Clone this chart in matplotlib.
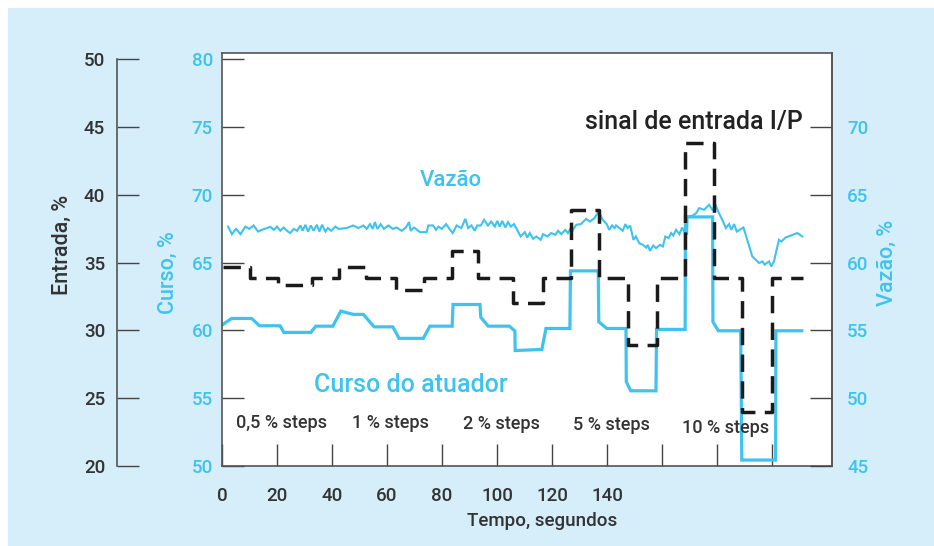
import matplotlib
matplotlib.use('Agg')
import matplotlib.pyplot as plt
from matplotlib.patches import Rectangle

plt.rcParams['font.family'] = ['Roboto', 'DejaVu Sans']
plt.rcParams['font.weight'] = 'medium'

W, H = 934, 546
CYAN = '#3ec3f0'
DARK = '#333333'
BG = '#d6edfa'

# ---------------- data ----------------
tempo_ticks = [0, 20, 40, 60, 80, 100, 120, 140, 160, 180, 200]
tempo_labels = ['0', '20', '40', '60', '80', '100', '120', '140', '', '', '']
entrada_ticks = [20, 25, 30, 35, 40, 45, 50]
curso_ticks = [50, 55, 60, 65, 70, 75, 80]
vazao_ticks = [45, 50, 55, 60, 65, 70]

# sinal de entrada I/P (Entrada, %) - step signal
entrada_t = [0.4, 10, 20.5, 32.6, 42.5, 52.3, 63.3, 73.5, 83.6, 93.1, 105.7,
             116.8, 126.8, 137.2, 147.5, 158.1, 168.4, 179.0, 189.2, 200.1, 211.4]
entrada_v = [34.7, 33.85, 33.35, 33.85, 34.7, 33.85, 33.0, 33.85, 35.9, 33.85, 32.0,
             33.85, 38.9, 33.85, 28.9, 33.85, 43.85, 33.85, 24.0, 33.85, 33.85]

# Curso do atuador (Curso, %)
curso_t = [0, 3.5, 10.8, 13.6, 21.1, 22.5, 32.3, 34.1, 40.3, 43.2,
           47.7, 51.4, 55.3, 62.1, 64.4, 73.2, 75.6, 83.7, 84.0, 93.8,
           94.1, 96.8, 104.5, 106.5, 106.6, 116.3, 117.8, 126.5, 126.7, 136.8,
           137.0, 139.9, 146.9, 147.0, 148.6, 157.8, 158.0, 168.4, 168.5, 178.4,
           178.5, 180.5, 188.6, 189.0, 201.3, 201.4, 210.8]
curso_v = [60.40, 60.89, 60.89, 60.35, 60.35, 59.86, 59.86, 60.32, 60.32, 61.43,
           61.19, 61.19, 60.27, 60.27, 59.42, 59.42, 60.32, 60.32, 61.92, 61.92,
           60.97, 60.32, 60.32, 59.96, 58.52, 58.60, 60.15, 60.15, 64.40, 64.40,
           60.64, 60.15, 60.15, 56.22, 55.55, 55.55, 60.08, 60.08, 68.38, 68.38,
           60.64, 59.98, 59.98, 50.44, 50.44, 59.98, 59.98]

# Vazão, %
vazao_t = [2.2, 3.6, 5.1, 6.7, 8.5, 9.9, 11.5, 13.1, 14.5, 16.4,
           17.6, 18.8, 20.0, 21.2, 22.4, 23.6, 24.8, 26.1, 27.3, 28.5,
           29.3, 30.3, 31.3, 32.3, 33.3, 34.5, 35.4, 36.4, 37.6, 38.5,
           39.7, 41.2, 42.4, 45.3, 47.7, 49.6, 51.4, 52.6, 53.8, 54.8,
           55.6, 56.5, 57.7, 58.9, 60.5, 62.1, 63.5, 65.3, 66.9, 68.0,
           68.6, 69.8, 72.0, 74.4, 75.0, 76.8, 77.8, 78.7, 79.9, 81.5,
           82.7, 83.9, 85.3, 87.0, 88.5, 89.5, 90.7, 91.9, 92.8, 94.1,
           95.3, 96.7, 97.9, 99.2, 100.1, 101.0, 101.9, 103.0, 104.0, 105.0,
           106.2, 108.6, 110.1, 111.0, 111.9, 113.1, 114.3, 115.9, 116.7, 118.3,
           119.7, 121.2, 122.2, 123.4, 124.8, 125.8, 126.8, 127.6, 128.8, 130.5,
           132.4, 133.8, 135.4, 137.0, 138.4, 139.9, 140.8, 141.8, 142.7, 143.3,
           144.5, 145.7, 146.7, 147.5, 148.4, 149.6, 150.5, 151.7, 153.0, 154.2,
           154.8, 155.6, 156.8, 157.8, 159.3, 160.3, 161.2, 162.4, 163.3, 164.1,
           165.1, 166.3, 167.3, 168.1, 168.7, 169.1, 169.3, 171.2, 172.4, 173.5,
           175.3, 177.1, 178.3, 179.5, 180.7, 181.9, 183.2, 184.4, 185.2, 186.2,
           187.2, 189.6, 190.8, 192.8, 195.3, 196.5, 197.3, 198.9, 199.7, 200.7,
           202.5, 203.4, 205.0, 209.2, 211.0]
vazao_v = [62.67, 62.11, 62.50, 62.11, 62.67, 62.50, 62.75, 62.30, 62.43, 62.56,
           62.65, 62.43, 62.67, 62.36, 62.60, 62.36, 62.19, 62.50, 62.36, 62.75,
           62.36, 62.80, 62.30, 62.75, 62.36, 62.80, 62.30, 62.80, 62.30, 62.56,
           62.36, 62.67, 62.50, 62.56, 62.75, 62.56, 62.75, 62.50, 62.85, 62.50,
           63.00, 62.50, 62.85, 62.50, 62.75, 62.50, 62.60, 62.36, 62.60, 63.00,
           62.36, 62.60, 62.26, 62.26, 62.75, 62.75, 62.43, 62.67, 62.50, 62.85,
           62.50, 62.19, 62.75, 62.56, 63.24, 62.56, 62.75, 62.36, 62.75, 62.75,
           63.17, 62.75, 63.04, 62.67, 63.09, 62.67, 63.09, 62.60, 63.00, 62.67,
           62.85, 61.94, 62.26, 61.86, 62.19, 61.77, 61.94, 61.69, 62.11, 61.94,
           62.19, 62.06, 62.36, 62.11, 62.43, 62.19, 62.56, 62.43, 62.80, 62.85,
           63.24, 63.04, 63.29, 63.78, 63.17, 62.85, 62.43, 62.75, 62.56, 62.75,
           62.56, 62.36, 62.85, 62.56, 62.75, 61.69, 61.94, 61.45, 61.32, 61.12,
           61.32, 60.88, 61.27, 61.08, 61.32, 61.20, 61.94, 61.82, 62.19, 62.01,
           62.43, 62.11, 62.60, 62.26, 62.93, 62.06, 63.41, 63.48, 63.66, 64.03,
           63.91, 64.28, 63.91, 64.23, 63.66, 63.17, 62.56, 62.85, 62.43, 62.85,
           62.30, 62.60, 61.82, 60.47, 59.98, 60.10, 59.86, 60.10, 59.73, 60.10,
           61.69, 61.57, 61.87, 62.19, 61.94]

# ---------------- figure ----------------
fig = plt.figure(figsize=(W / 100, H / 100), dpi=100)
fig.patch.set_facecolor('white')
fig.patches.append(Rectangle((8 / W, 0), (W - 8) / W, (H - 8) / H,
                             transform=fig.transFigure, facecolor=BG,
                             edgecolor='none', zorder=-10))


def fx(px):
    return px / W


def fy(py):
    return 1 - py / H


L, R, T, B = 222, 832, 52.7, 466
rect = [fx(L), fy(B), (R - L) / W, (B - T) / H]
XMAX = 221.8

# Curso axis (host)
ax = fig.add_axes(rect)
ax.set_zorder(1)
ax.set_facecolor('white')
ax.set_xlim(0, XMAX)
ax.set_ylim(50, 80.5)
ax.set_xticks(tempo_ticks)
ax.set_xticklabels(tempo_labels)
ax.set_yticks(curso_ticks)
for s in ax.spines.values():
    s.set_color('#555555')
    s.set_linewidth(1.2)
ax.tick_params(axis='y', direction='in', length=16, width=1, color='#444444',
               labelcolor=CYAN, labelsize=13.5, pad=6.5)
ax.tick_params(axis='x', direction='in', length=16, width=1, color='#444444',
               labelcolor=DARK, labelsize=13.5, pad=15)

# Vazão axis (right)
ax_v = ax.twinx()
ax_v.set_zorder(2)
ax_v.set_ylim(45, 75.5)
ax_v.set_yticks(vazao_ticks)
for k, s in ax_v.spines.items():
    s.set_visible(k == 'right')
    s.set_color('#555555')
    s.set_linewidth(1.2)
ax_v.tick_params(axis='y', direction='in', length=16, width=1, color='#444444',
                 labelcolor=CYAN, labelsize=13.5, pad=10.8)

# Entrada axis (outer left)
ax_e = fig.add_axes(rect, label='entrada')
ax_e.set_zorder(3)
ax_e.patch.set_visible(False)
ax_e.set_xlim(0, XMAX)
ax_e.set_ylim(20, 50.5)
ax_e.set_yticks(entrada_ticks)
ax_e.xaxis.set_visible(False)
for k, s in ax_e.spines.items():
    s.set_visible(k == 'left')
ax_e.spines['left'].set_position(('outward', 105 * 0.72))
ax_e.spines['left'].set_bounds(20, 50)
ax_e.spines['left'].set_color('#555555')
ax_e.spines['left'].set_linewidth(1.2)
ax_e.tick_params(axis='y', direction='in', length=16, width=1, color='#444444',
                 labelcolor=DARK, labelsize=13.5, pad=8.6)

# lines
ax_v.plot(vazao_t, vazao_v, color=CYAN, lw=1.5, solid_joinstyle='miter')
ax.plot(curso_t, curso_v, color=CYAN, lw=2.3, solid_joinstyle='miter')
ax_e.plot(entrada_t, entrada_v, color='#1a1a1a', lw=2.5,
          drawstyle='steps-post', linestyle=(0, (5.0, 2.7)), clip_on=False)

# axis labels
fig.text(fx(62), fy(245), 'Entrada, %', rotation=90, ha='center', va='center',
         fontsize=15.5, color=DARK)
fig.text(fx(168), fy(273), 'Curso, %', rotation=90, ha='center', va='center',
         fontsize=15.5, color=CYAN)
fig.text(fx(887), fy(263), 'Vazão, %', rotation=90, ha='center', va='center',
         fontsize=15.5, color=CYAN)
fig.text(fx(542), fy(521), 'Tempo, segundos', ha='center', va='center',
         fontsize=13.5, color=DARK)

# annotations
fig.text(fx(585), fy(122), 'sinal de entrada I/P', ha='left', va='center',
         fontsize=18, color='#222222')
fig.text(fx(451), fy(181), 'Vazão', ha='center', va='center',
         fontsize=16, color=CYAN)
fig.text(fx(411), fy(385), 'Curso do atuador', ha='center', va='center',
         fontsize=18, color=CYAN)
step_texts = ['0,5 % steps', '1 % steps', '2 % steps', '5 % steps', '10 % steps']
step_pos = [(281, 423), (390, 423), (501, 424), (611, 425), (726, 428)]
for txt, (px, py) in zip(step_texts, step_pos):
    fig.text(fx(px), fy(py), txt, ha='center', va='center', fontsize=13,
             color=DARK, zorder=5)

fig.savefig('out.png', dpi=100, facecolor=fig.get_facecolor())
